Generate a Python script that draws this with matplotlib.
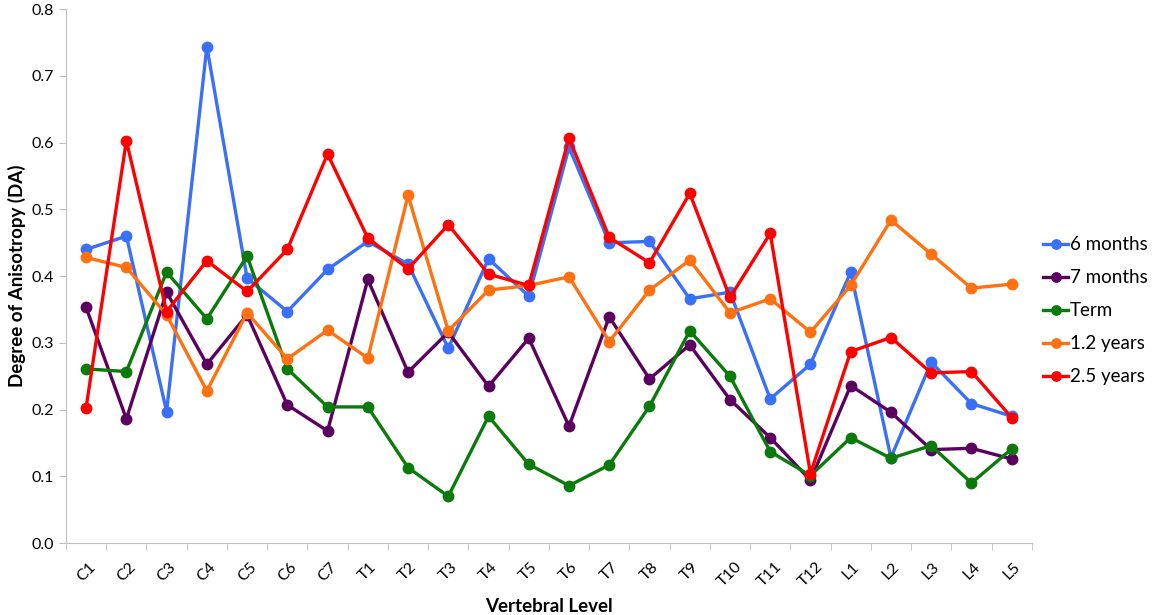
import numpy as np
import matplotlib.pyplot as plt

levels = ['C1', 'C2', 'C3', 'C4', 'C5', 'C6', 'C7', 'T1', 'T2', 'T3', 'T4', 'T5',
          'T6', 'T7', 'T8', 'T9', 'T10', 'T11', 'T12', 'L1', 'L2', 'L3', 'L4', 'L5']

six_months = [0.440, 0.460, 0.197, 0.744, 0.397, 0.347, 0.410, 0.452, 0.418, 0.292, 0.426, 0.370,
              0.593, 0.450, 0.452, 0.366, 0.376, 0.216, 0.268, 0.406, 0.128, 0.271, 0.209, 0.190]
seven_months = [0.353, 0.186, 0.376, 0.268, 0.342, 0.207, 0.168, 0.395, 0.256, 0.316, 0.235, 0.307,
                0.175, 0.339, 0.246, 0.297, 0.215, 0.158, 0.094, 0.236, 0.196, 0.140, 0.142, 0.126]
term = [0.261, 0.257, 0.406, 0.336, 0.430, 0.261, 0.204, 0.204, 0.113, 0.070, 0.190, 0.118,
        0.086, 0.117, 0.205, 0.318, 0.250, 0.137, 0.101, 0.158, 0.127, 0.146, 0.090, 0.141]
one_two_years = [0.428, 0.413, 0.342, 0.228, 0.345, 0.276, 0.319, 0.277, 0.521, 0.318, 0.379, 0.386,
                 0.399, 0.302, 0.379, 0.424, 0.345, 0.366, 0.316, 0.386, 0.484, 0.433, 0.382, 0.388]
two_five_years = [0.203, 0.603, 0.347, 0.423, 0.377, 0.440, 0.583, 0.457, 0.411, 0.477, 0.403, 0.386,
                  0.607, 0.458, 0.420, 0.524, 0.368, 0.464, 0.104, 0.287, 0.308, 0.255, 0.257, 0.188]

series = [
    ('6 months', six_months, '#3a6ff7'),
    ('7 months', seven_months, '#5c0060'),
    ('Term', term, '#0a7a0a'),
    ('1.2 years', one_two_years, '#ff7010'),
    ('2.5 years', two_five_years, '#ff0000'),
]

plt.rcParams['font.family'] = ['Lato', 'DejaVu Sans']

fig = plt.figure(figsize=(11.58, 6.15), dpi=100)
ax = fig.add_axes([0.057, 0.117, 0.834, 0.868])

x = np.arange(len(levels))
for name, vals, col in series:
    ax.plot(x, vals, color=col, lw=2.4, marker='o', ms=7.5, label=name)

ax.set_xlim(-0.5, len(levels) - 0.5)
ax.set_ylim(0, 0.8)
ax.set_yticks(np.arange(0, 0.81, 0.1))
ax.set_yticklabels(['%.1f' % v for v in np.arange(0, 0.81, 0.1)], fontsize=11.5)
ax.set_xticks(x)
ax.set_xticklabels(levels, rotation=45, fontsize=11.5)
ax.set_xticks(np.arange(-0.5, len(levels), 1), minor=True)
ax.tick_params(axis='x', which='major', length=0, pad=12)
ax.tick_params(axis='x', which='minor', length=5, color='#bfbfbf')
ax.tick_params(axis='y', length=5, color='#bfbfbf')

for s in ['top', 'right']:
    ax.spines[s].set_visible(False)
for s in ['left', 'bottom']:
    ax.spines[s].set_color('#bfbfbf')

ax.set_ylabel('Degree of Anisotropy (DA)', fontsize=13.5, fontweight='bold')
ax.set_xlabel('Vertebral Level', fontsize=13.5, fontweight='bold', labelpad=6)

ax.legend(loc='center left', bbox_to_anchor=(1.012, 0.435), frameon=False, fontsize=13.5,
          handlelength=1.3, handletextpad=0.1, labelspacing=0.85, markerscale=0.9,
          borderaxespad=0, borderpad=0)

fig.savefig('out.png', dpi=100)
